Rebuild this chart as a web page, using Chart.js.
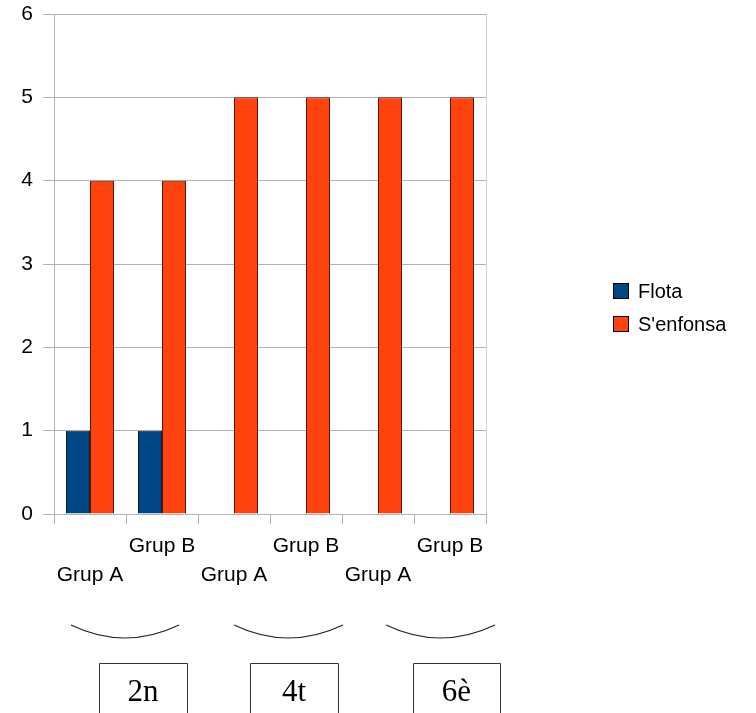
<!DOCTYPE html>
<html>
<head>
<meta charset="utf-8">
<script src="https://cdn.jsdelivr.net/npm/chart.js@4.4.1/dist/chart.umd.min.js"></script>
<style>
  html, body { margin: 0; padding: 0; background: #fff; }
  #wrap { width: 756px; height: 713px; position: relative; }
</style>
</head>
<body>
<div id="wrap"><canvas id="chart"></canvas></div>
<script>
// Data
const categories = ['Grup A', 'Grup B', 'Grup A', 'Grup B', 'Grup A', 'Grup B'];
const flota = [1, 1, 0, 0, 0, 0];
const senfonsa = [4, 4, 5, 5, 5, 5];
const yTicks = [0, 1, 2, 3, 4, 5, 6];
const courseLabels = ['2n', '4t', '6è'];

// Annotation layout (braces + boxes under the axis)
const braceSpans = [[71, 179], [234, 343], [386, 495]];
const boxSpans = [[99, 187], [250, 338], [413, 500]];

Chart.defaults.font.family = "'Liberation Sans', Arial, sans-serif";
Chart.defaults.font.size = 21;
Chart.defaults.color = '#000';

const gridGrey = '#b3b3b3';

// Draws right frame, legend and the annotations below the chart
const extrasPlugin = {
    id: 'extras',
    afterDraw(chart) {
        const ctx = chart.ctx;
        const area = chart.chartArea;
        ctx.save();

        // right frame line
        ctx.strokeStyle = '#d4d4d4';
        ctx.lineWidth = 1;
        ctx.beginPath();
        ctx.moveTo(area.right + 0.5, area.top);
        ctx.lineTo(area.right + 0.5, area.bottom);
        ctx.stroke();

        // legend
        const lx = 613, ly = 283, rowGap = 33, box = 16;
        chart.data.datasets.forEach((ds, i) => {
            const y = ly + i * rowGap;
            ctx.fillStyle = ds.backgroundColor;
            ctx.fillRect(lx, y, box, box);
            ctx.strokeStyle = '#000';
            ctx.lineWidth = 1;
            ctx.strokeRect(lx + 0.5, y + 0.5, box - 1, box - 1);
            ctx.fillStyle = '#000';
            ctx.font = "20px 'Liberation Sans', Arial, sans-serif";
            ctx.textBaseline = 'middle';
            ctx.textAlign = 'left';
            ctx.fillText(ds.label, lx + 25, y + box / 2 + 1);
        });

        // braces
        ctx.strokeStyle = '#222';
        ctx.lineWidth = 1.2;
        braceSpans.forEach(([x0, x1]) => {
            ctx.beginPath();
            ctx.moveTo(x0, 625);
            ctx.quadraticCurveTo((x0 + x1) / 2, 651, x1, 625);
            ctx.stroke();
        });

        // boxes with course labels
        ctx.strokeStyle = '#333';
        ctx.lineWidth = 1;
        ctx.font = "31px 'Liberation Serif', 'Times New Roman', serif";
        ctx.textAlign = 'center';
        ctx.textBaseline = 'alphabetic';
        boxSpans.forEach(([x0, x1], i) => {
            ctx.beginPath();
            ctx.moveTo(x0 + 0.5, 720);
            ctx.lineTo(x0 + 0.5, 663.5);
            ctx.lineTo(x1 + 0.5, 663.5);
            ctx.lineTo(x1 + 0.5, 720);
            ctx.stroke();
            ctx.fillStyle = '#000';
            ctx.fillText(courseLabels[i], (x0 + x1) / 2, 701);
        });

        ctx.restore();
    }
};

const ctx = document.getElementById('chart').getContext('2d');
const chart = new Chart(ctx, {
    type: 'bar',
    data: {
        labels: categories,
        datasets: [
            {
                label: 'Flota',
                data: flota,
                backgroundColor: '#004586',
                borderColor: '#0b1f33',
                borderWidth: 1
            },
            {
                label: "S'enfonsa",
                data: senfonsa,
                backgroundColor: '#ff420e',
                borderColor: '#5a1a08',
                borderWidth: 1
            }
        ]
    },
    options: {
        responsive: true,
        maintainAspectRatio: false,
        animation: false,
        categoryPercentage: 48 / 72,
        barPercentage: 1,
        layout: { padding: { left: 0, top: 14, right: 270, bottom: 0 } },
        plugins: {
            legend: { display: false },
            tooltip: { enabled: false }
        },
        scales: {
            x: {
                grid: { drawOnChartArea: false, drawTicks: true, tickLength: 10, color: gridGrey },
                border: { display: true, color: gridGrey },
                ticks: {
                    autoSkip: false,
                    maxRotation: 0,
                    padding: 8,
                    font: { size: 21, lineHeight: '29px' },
                    // stagger the labels like the original
                    callback: function (value, index) {
                        const label = this.getLabelForValue(value);
                        return index % 2 === 0 ? ['', label] : label;
                    }
                },
                afterFit(scale) { scale.height = 199; }
            },
            y: {
                min: yTicks[0],
                max: yTicks[yTicks.length - 1],
                grid: { color: gridGrey, tickLength: 11 },
                border: { display: true, color: gridGrey },
                ticks: { stepSize: 1, padding: 10, font: { size: 21 } },
                afterFit(scale) {
                    scale.width = 54;
                    scale.paddingTop = 0;
                    scale.paddingBottom = 0;
                }
            }
        }
    },
    plugins: [extrasPlugin]
});
</script>
</body>
</html>
